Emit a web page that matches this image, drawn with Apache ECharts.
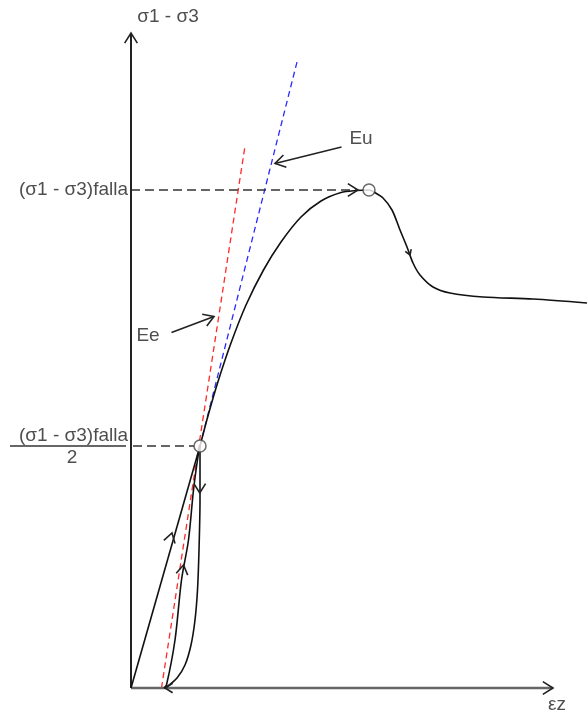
<!DOCTYPE html>
<html>
<head>
<meta charset="utf-8">
<script src="https://cdn.jsdelivr.net/npm/echarts@6.0.0/dist/echarts.min.js"></script>
<style>
  html, body { margin: 0; padding: 0; background: #fff; }
  #chart { width: 587px; height: 713px; }
</style>
</head>
<body>
<div id="chart"></div>
<script>
// esquema esfuerzo desviador vs deformacion axial (unidades arbitrarias)
var failStress = 99.6;
var halfStress = 48.4;

var axisY = [[0, 0], [0, 131]];
var axisX = [[0, 0], [84.4, 0]];

// primer ciclo de carga / descarga / recarga
var loading = [[0, 0], [13.8, 48.4]];
var unloading = [[13.8, 48.4], [13.8, 37.6], [13.6, 27.6], [13.3, 19.6], [12.8, 13.6], [12, 8.6], [10.8, 4.6], [9.2, 2], [7.4, 0.4], [6.6, 0]];
var reloading = [[6.6, 0], [7.1, 0.6], [8.8, 9.6], [10.1, 21.6], [11.5, 29.6], [12.5, 39.6], [13.5, 47], [13.8, 48.4]];

// curva principal hasta la falla y post-pico
var mainCurve = [
  [13.8, 48.4], [15.5, 54.8], [17.5, 61.6], [20, 69], [23, 76.6], [26.5, 83.6],
  [30, 89.2], [34, 94.2], [38, 97.4], [42, 99.1], [45, 99.5], [47.6, 99.6],
  [48.6, 99.2], [50.4, 98], [52.2, 95.6], [53.8, 91.6], [55.2, 88.2], [56.4, 85],
  [57.8, 82.6], [60.4, 80.2], [63.8, 79], [70.4, 78.2], [80.4, 77.8], [91.2, 77]
];

// modulos tangentes
var eeLine = [[6.1, 0], [22.8, 108.4]];
var euLine = [[13.8, 48.4], [33.2, 125.2]];

var failLine = [[0, failStress], [45.4, failStress]];
var halfLine = [[0.4, halfStress], [12.6, halfStress]];
var fractionBar = [[-24.2, halfStress], [-1, halfStress]];

var circles = [[13.8, halfStress], [47.6, failStress]];

var euPointer = [[42.1, 108.2], [28.8, 104.9]];
var eePointer = [[8.1, 71.1], [16.6, 74.3]];

// puntas de flecha: x, y, angulo (grados), largo (px)
var arrowHeads = [
  [0, 131, 90, 12],
  [84.4, 0, 0, 12],
  [45.4, failStress, 0, 12],
  [28.8, 104.9, 193.4, 12],
  [16.6, 74.3, 20.9, 12],
  [8.2, 31, 74, 11],
  [10.5, 24.6, 80.6, 11],
  [13.75, 39, -90, 11],
  [55.8, 86.6, -69.4, 6],
  [6.8, 0, 180, 9]
];

var labelTexts = ['σ1 - σ3', '(σ1 - σ3)falla', '(σ1 - σ3)falla', '2', 'Eu', 'Ee', 'εz'];
var labelAnchors = [[7.4, 134.2], [-0.6, failStress], [-0.6, 50.4], [-11.8, 46], [46, 109.8], [3.4, 70.4], [85.2, -3.4]];
var labelAligns = ['center', 'right', 'right', 'center', 'center', 'center', 'center'];

var chart = echarts.init(document.getElementById('chart'), null, { renderer: 'canvas' });

function lineSeries(data, color, width, type, z) {
  return {
    type: 'line',
    data: data,
    symbol: 'none',
    showSymbol: false,
    smooth: false,
    silent: true,
    clip: false,
    z: z || 2,
    lineStyle: { color: color, width: width, type: type || 'solid' }
  };
}

function renderArrow(params, api) {
  var p = api.coord([api.value(0), api.value(1)]);
  var a = api.value(2) * Math.PI / 180;
  var len = api.value(3);
  var h = 32 * Math.PI / 180;
  return {
    type: 'polyline',
    shape: {
      points: [
        [p[0] - len * Math.cos(a - h), p[1] + len * Math.sin(a - h)],
        p,
        [p[0] - len * Math.cos(a + h), p[1] + len * Math.sin(a + h)]
      ]
    },
    style: { stroke: '#222', lineWidth: 1.6, fill: null }
  };
}

var labelData = labelTexts.map(function (t, i) {
  return {
    name: t,
    value: labelAnchors[i],
    label: { align: labelAligns[i] }
  };
});

var curveSeries = lineSeries(mainCurve, '#111', 1.6);
curveSeries.smooth = 0.3;
var unloadSeries = lineSeries(unloading, '#111', 1.6);
unloadSeries.smooth = 0.3;
var reloadSeries = lineSeries(reloading, '#111', 1.6);
reloadSeries.smooth = 0.3;

var option = {
  animation: false,
  backgroundColor: '#fff',
  grid: { left: 0, right: 0, top: 0, bottom: 0 },
  xAxis: { type: 'value', min: -26.2, max: 91.2, show: false },
  yAxis: { type: 'value', min: -5, max: 137.6, show: false },
  series: [
    lineSeries(eeLine, '#ff2a2a', 1.3, [6, 4], 1),
    lineSeries(euLine, '#2a2aff', 1.3, [6, 4], 1),
    lineSeries(failLine, '#333', 1.6, [9, 5]),
    lineSeries(halfLine, '#333', 1.6, [9, 5]),
    lineSeries(fractionBar, '#333', 1.6),
    lineSeries(axisX, '#666', 2.5),
    lineSeries(axisY, '#222', 2),
    lineSeries(loading, '#111', 1.6),
    unloadSeries,
    reloadSeries,
    curveSeries,
    lineSeries(euPointer, '#222', 1.6),
    lineSeries(eePointer, '#222', 1.6),
    {
      type: 'custom',
      data: arrowHeads,
      renderItem: renderArrow,
      silent: true,
      z: 4
    },
    {
      type: 'scatter',
      data: circles,
      symbol: 'circle',
      symbolSize: 12,
      silent: true,
      z: 5,
      itemStyle: { color: '#fff', borderColor: '#444', borderWidth: 1.5 }
    },
    {
      type: 'scatter',
      data: labelData,
      symbolSize: 0,
      silent: true,
      z: 6,
      label: {
        show: true,
        position: 'inside',
        formatter: '{b}',
        verticalAlign: 'middle',
        color: '#222',
        fontSize: 19,
        fontFamily: 'Liberation Sans, Arial, sans-serif'
      }
    }
  ]
};

chart.setOption(option);
</script>
</body>
</html>
